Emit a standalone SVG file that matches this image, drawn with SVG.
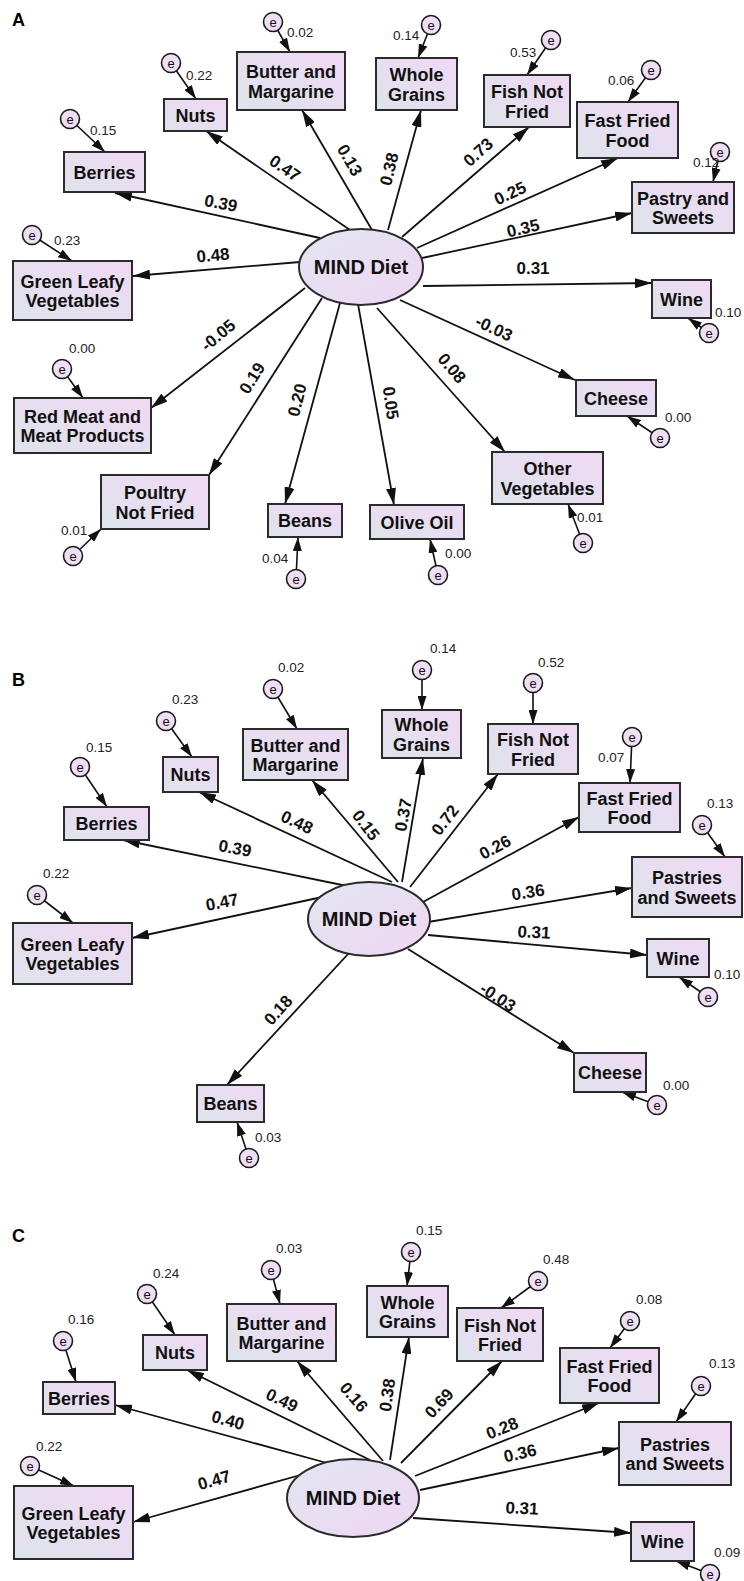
<svg xmlns="http://www.w3.org/2000/svg" width="744" height="1581" viewBox="0 0 744 1581">
<style>
.box{fill:url(#gb);stroke:#2b2b2b;stroke-width:2}
.lat{fill:url(#gl);stroke:#2b2b2b;stroke-width:2}
.err{fill:#f0def5;stroke:#1a1a1a;stroke-width:1.6}
.bt{font-family:"Liberation Sans",Arial,sans-serif;font-weight:bold;font-size:18px;fill:#111;text-anchor:middle}
.mt{font-family:"Liberation Sans",Arial,sans-serif;font-weight:bold;font-size:20px;fill:#111;text-anchor:middle}
.et{font-family:"Liberation Sans",Arial,sans-serif;font-size:13px;fill:#111;text-anchor:middle}
.vt{font-family:"Liberation Sans",Arial,sans-serif;font-size:13.5px;fill:#222}
.lb{font-family:"Liberation Sans",Arial,sans-serif;font-weight:bold;font-size:17px;fill:#111;text-anchor:middle}
.pl{font-family:"Liberation Sans",Arial,sans-serif;font-weight:bold;font-size:18px;fill:#000}
.ed{stroke:#111;stroke-width:1.8;fill:none;marker-end:url(#ah)}
.ee{stroke:#111;stroke-width:1.6;fill:none;marker-end:url(#ah2)}
</style>
<defs>
<linearGradient id="gb" x1="0" y1="1" x2="1" y2="0"><stop offset="0" stop-color="#dde4ec"/><stop offset="1" stop-color="#f1d8f4"/></linearGradient>
<linearGradient id="gl" x1="0" y1="0" x2="1" y2="1"><stop offset="0" stop-color="#e2e6f0"/><stop offset="1" stop-color="#efd6f3"/></linearGradient>
<marker id="ah" markerUnits="userSpaceOnUse" markerWidth="18" markerHeight="10" refX="17" refY="5" orient="auto"><path d="M0,0 L17,5 L0,10 z" fill="#111"/></marker>
<marker id="ah2" markerUnits="userSpaceOnUse" markerWidth="15" markerHeight="9" refX="14" refY="4.5" orient="auto"><path d="M0,0 L14,4.5 L0,9 z" fill="#111"/></marker>
</defs>
<rect width="744" height="1581" fill="#fff"/>
<text class="pl" x="12" y="26">A</text>
<text class="pl" x="12" y="686">B</text>
<text class="pl" x="12" y="1242">C</text>

<g id="connectors">
<!-- Panel A -->
<line class="ed" x1="320" y1="238" x2="115" y2="193"/>
<line class="ed" x1="350" y1="230" x2="206" y2="131"/>
<line class="ed" x1="372" y1="230" x2="302" y2="110"/>
<line class="ed" x1="300" y1="262" x2="133" y2="276"/>
<line class="ed" x1="388" y1="230" x2="421" y2="110"/>
<line class="ed" x1="402" y1="237" x2="529" y2="127"/>
<line class="ed" x1="417" y1="248" x2="618" y2="158"/>
<line class="ed" x1="422" y1="258" x2="632" y2="213"/>
<line class="ed" x1="423" y1="286" x2="652" y2="283"/>
<line class="ed" x1="400" y1="300" x2="575" y2="380"/>
<line class="ed" x1="377" y1="308" x2="505" y2="452"/>
<line class="ed" x1="358" y1="304" x2="394" y2="505"/>
<line class="ed" x1="340" y1="303" x2="285" y2="504"/>
<line class="ed" x1="322" y1="298" x2="209" y2="475"/>
<line class="ed" x1="305" y1="288" x2="151" y2="408"/>
<line class="ee" x1="273" y1="22" x2="290" y2="52"/>
<line class="ee" x1="171" y1="63" x2="196" y2="99"/>
<line class="ee" x1="70" y1="119" x2="105" y2="152"/>
<line class="ee" x1="32" y1="235" x2="72" y2="261"/>
<line class="ee" x1="431" y1="25" x2="418" y2="58"/>
<line class="ee" x1="551" y1="40" x2="527" y2="75"/>
<line class="ee" x1="651" y1="70" x2="628" y2="102"/>
<line class="ee" x1="720" y1="152" x2="713" y2="182"/>
<line class="ee" x1="709" y1="333" x2="688" y2="318"/>
<line class="ee" x1="660" y1="438" x2="627" y2="416"/>
<line class="ee" x1="583" y1="543" x2="568" y2="504"/>
<line class="ee" x1="438" y1="575" x2="430" y2="539"/>
<line class="ee" x1="296" y1="579" x2="298" y2="537"/>
<line class="ee" x1="73" y1="556" x2="101" y2="529"/>
<line class="ee" x1="62" y1="369" x2="83" y2="398"/>
<g class="lb">
<text transform="translate(221,203) rotate(11)" y="6">0.39</text>
<text transform="translate(285,168) rotate(34)" y="6">0.47</text>
<text transform="translate(350,160) rotate(60)" y="6">0.13</text>
<text transform="translate(213,255) rotate(-5)" y="6">0.48</text>
<text transform="translate(389,169) rotate(-77)" y="6">0.38</text>
<text transform="translate(478,152) rotate(-42)" y="6">0.73</text>
<text transform="translate(510,193) rotate(-25)" y="6">0.25</text>
<text transform="translate(523,228) rotate(-13)" y="6">0.35</text>
<text transform="translate(533,268)" y="6">0.31</text>
<text transform="translate(494,328) rotate(25)" y="6">-0.03</text>
<text transform="translate(452,368) rotate(50)" y="6">0.08</text>
<text transform="translate(391,403) rotate(82)" y="6">0.05</text>
<text transform="translate(297,400) rotate(-76)" y="6">0.20</text>
<text transform="translate(252,378) rotate(-58)" y="6">0.19</text>
<text transform="translate(218,335) rotate(-40)" y="6">-0.05</text>
</g>
<!-- Panel B -->
<line class="ed" x1="347" y1="886" x2="123" y2="840"/>
<line class="ed" x1="392" y1="882" x2="199" y2="792"/>
<line class="ed" x1="398" y1="882" x2="312" y2="780"/>
<line class="ed" x1="327" y1="896" x2="132" y2="938"/>
<line class="ed" x1="402" y1="882" x2="423" y2="758"/>
<line class="ed" x1="410" y1="887" x2="498" y2="774"/>
<line class="ed" x1="423" y1="902" x2="579" y2="817"/>
<line class="ed" x1="428" y1="922" x2="632" y2="888"/>
<line class="ed" x1="428" y1="935" x2="647" y2="955"/>
<line class="ed" x1="408" y1="949" x2="574" y2="1053"/>
<line class="ed" x1="349" y1="953" x2="227" y2="1085"/>
<line class="ee" x1="273" y1="689" x2="297" y2="729"/>
<line class="ee" x1="166" y1="721" x2="192" y2="757"/>
<line class="ee" x1="80" y1="767" x2="107" y2="807"/>
<line class="ee" x1="37" y1="895" x2="73" y2="923"/>
<line class="ee" x1="422" y1="670" x2="422" y2="710"/>
<line class="ee" x1="533" y1="683" x2="533" y2="724"/>
<line class="ee" x1="632" y1="737" x2="630" y2="783"/>
<line class="ee" x1="702" y1="825" x2="725" y2="857"/>
<line class="ee" x1="708" y1="997" x2="679" y2="977"/>
<line class="ee" x1="657" y1="1105" x2="622" y2="1092"/>
<line class="ee" x1="249" y1="1158" x2="237" y2="1122"/>
<g class="lb">
<text transform="translate(235,848) rotate(10)" y="6">0.39</text>
<text transform="translate(297,822) rotate(25)" y="6">0.48</text>
<text transform="translate(366,825) rotate(53)" y="6">0.15</text>
<text transform="translate(222,902) rotate(-11)" y="6">0.47</text>
<text transform="translate(403,815) rotate(-80)" y="6">0.37</text>
<text transform="translate(445,820) rotate(-52)" y="6">0.72</text>
<text transform="translate(495,847) rotate(-28)" y="6">0.26</text>
<text transform="translate(528,892) rotate(-9)" y="6">0.36</text>
<text transform="translate(534,932) rotate(3)" y="6">0.31</text>
<text transform="translate(498,997) rotate(33)" y="6">-0.03</text>
<text transform="translate(278,1010) rotate(-48)" y="6">0.18</text>
</g>
<!-- Panel C -->
<line class="ed" x1="327" y1="1463" x2="115" y2="1405"/>
<line class="ed" x1="370" y1="1460" x2="187" y2="1370"/>
<line class="ed" x1="383" y1="1461" x2="297" y2="1361"/>
<line class="ed" x1="390" y1="1460" x2="409" y2="1337"/>
<line class="ed" x1="401" y1="1463" x2="502" y2="1361"/>
<line class="ed" x1="415" y1="1476" x2="599" y2="1403"/>
<line class="ed" x1="420" y1="1490" x2="619" y2="1448"/>
<line class="ed" x1="413" y1="1518" x2="631" y2="1533"/>
<line class="ed" x1="304" y1="1474" x2="133" y2="1522"/>
<line class="ee" x1="63" y1="1341" x2="76" y2="1382"/>
<line class="ee" x1="147" y1="1294" x2="175" y2="1335"/>
<line class="ee" x1="271" y1="1270" x2="280" y2="1304"/>
<line class="ee" x1="411" y1="1252" x2="407" y2="1286"/>
<line class="ee" x1="538" y1="1281" x2="501" y2="1308"/>
<line class="ee" x1="630" y1="1321" x2="610" y2="1348"/>
<line class="ee" x1="701" y1="1386" x2="676" y2="1422"/>
<line class="ee" x1="30" y1="1466" x2="74" y2="1486"/>
<line class="ee" x1="710" y1="1574" x2="676" y2="1561"/>
<g class="lb">
<text transform="translate(228,1420) rotate(15)" y="6">0.40</text>
<text transform="translate(282,1400) rotate(26)" y="6">0.49</text>
<text transform="translate(354,1397) rotate(50)" y="6">0.16</text>
<text transform="translate(387,1395) rotate(-82)" y="6">0.38</text>
<text transform="translate(439,1403) rotate(-47)" y="6">0.69</text>
<text transform="translate(502,1428) rotate(-22)" y="6">0.28</text>
<text transform="translate(520,1453) rotate(-13)" y="6">0.36</text>
<text transform="translate(522,1508) rotate(3)" y="6">0.31</text>
<text transform="translate(214,1480) rotate(-16)" y="6">0.47</text>
</g>
</g>

<!-- Panel A nodes -->
<g id="a-mind"><ellipse class="lat" cx="361" cy="267" rx="62" ry="38"/><text class="mt" x="361" y="274">MIND Diet</text></g>
<g id="a-butter"><rect class="box" x="237" y="52" width="108" height="58"/><text class="bt" x="291" y="78">Butter and</text><text class="bt" x="291" y="97.5">Margarine</text><circle class="err" cx="273" cy="22" r="9.5"/><text class="et" x="273" y="26.5">e</text><text class="vt" x="287" y="37">0.02</text></g>
<g id="a-nuts"><rect class="box" x="164" y="99" width="63" height="32"/><text class="bt" x="195.5" y="121.5">Nuts</text><circle class="err" cx="171" cy="63" r="9.5"/><text class="et" x="171" y="67.5">e</text><text class="vt" x="186" y="80">0.22</text></g>
<g id="a-berries"><rect class="box" x="64" y="152" width="81" height="40"/><text class="bt" x="104.5" y="178.5">Berries</text><circle class="err" cx="70" cy="119" r="9.5"/><text class="et" x="70" y="123.5">e</text><text class="vt" x="90" y="135">0.15</text></g>
<g id="a-green"><rect class="box" x="13" y="261" width="119" height="59"/><text class="bt" x="72.5" y="287.5">Green Leafy</text><text class="bt" x="72.5" y="307">Vegetables</text><circle class="err" cx="32" cy="235" r="9.5"/><text class="et" x="32" y="239.5">e</text><text class="vt" x="54" y="245">0.23</text></g>
<g id="a-whole"><rect class="box" x="376" y="58" width="81" height="52"/><text class="bt" x="416.5" y="81">Whole</text><text class="bt" x="416.5" y="100.5">Grains</text><circle class="err" cx="431" cy="25" r="9.5"/><text class="et" x="431" y="29.5">e</text><text class="vt" x="393" y="40">0.14</text></g>
<g id="a-fish"><rect class="box" x="484" y="75" width="86" height="52"/><text class="bt" x="527" y="98">Fish Not</text><text class="bt" x="527" y="117.5">Fried</text><circle class="err" cx="551" cy="40" r="9.5"/><text class="et" x="551" y="44.5">e</text><text class="vt" x="510" y="57">0.53</text></g>
<g id="a-fast"><rect class="box" x="577" y="102" width="101" height="56"/><text class="bt" x="627.5" y="127">Fast Fried</text><text class="bt" x="627.5" y="146.5">Food</text><circle class="err" cx="651" cy="70" r="9.5"/><text class="et" x="651" y="74.5">e</text><text class="vt" x="608" y="85">0.06</text></g>
<g id="a-pastry"><rect class="box" x="632" y="182" width="102" height="51"/><text class="bt" x="683" y="204.5">Pastry and</text><text class="bt" x="683" y="224">Sweets</text><circle class="err" cx="720" cy="152" r="9.5"/><text class="et" x="720" y="156.5">e</text><text class="vt" x="693" y="167">0.12</text></g>
<g id="a-wine"><rect class="box" x="652" y="280" width="59" height="38"/><text class="bt" x="681.5" y="305.5">Wine</text><circle class="err" cx="709" cy="333" r="9.5"/><text class="et" x="709" y="337.5">e</text><text class="vt" x="715" y="317">0.10</text></g>
<g id="a-cheese"><rect class="box" x="576" y="380" width="80" height="36"/><text class="bt" x="616" y="404.5">Cheese</text><circle class="err" cx="660" cy="438" r="9.5"/><text class="et" x="660" y="442.5">e</text><text class="vt" x="665" y="422">0.00</text></g>
<g id="a-other"><rect class="box" x="492" y="452" width="111" height="52"/><text class="bt" x="547.5" y="475">Other</text><text class="bt" x="547.5" y="494.5">Vegetables</text><circle class="err" cx="583" cy="543" r="9.5"/><text class="et" x="583" y="547.5">e</text><text class="vt" x="577" y="522">0.01</text></g>
<g id="a-olive"><rect class="box" x="370" y="505" width="94" height="34"/><text class="bt" x="417" y="528.5">Olive Oil</text><circle class="err" cx="438" cy="575" r="9.5"/><text class="et" x="438" y="579.5">e</text><text class="vt" x="445" y="558">0.00</text></g>
<g id="a-beans"><rect class="box" x="268" y="504" width="74" height="33"/><text class="bt" x="305" y="527">Beans</text><circle class="err" cx="296" cy="579" r="9.5"/><text class="et" x="296" y="583.5">e</text><text class="vt" x="262" y="563">0.04</text></g>
<g id="a-poultry"><rect class="box" x="101" y="475" width="108" height="54"/><text class="bt" x="155" y="499">Poultry</text><text class="bt" x="155" y="518.5">Not Fried</text><circle class="err" cx="73" cy="556" r="9.5"/><text class="et" x="73" y="560.5">e</text><text class="vt" x="61" y="535">0.01</text></g>
<g id="a-redmeat"><rect class="box" x="14" y="398" width="137" height="55"/><text class="bt" x="82.5" y="422.5">Red Meat and</text><text class="bt" x="82.5" y="442">Meat Products</text><circle class="err" cx="62" cy="369" r="9.5"/><text class="et" x="62" y="373.5">e</text><text class="vt" x="69" y="353">0.00</text></g>

<!-- Panel B nodes -->
<g id="b-mind"><ellipse class="lat" cx="369" cy="919" rx="61" ry="37"/><text class="mt" x="369" y="926">MIND Diet</text></g>
<g id="b-butter"><rect class="box" x="243" y="729" width="105" height="51"/><text class="bt" x="295.5" y="751.5">Butter and</text><text class="bt" x="295.5" y="771">Margarine</text><circle class="err" cx="273" cy="689" r="9.5"/><text class="et" x="273" y="693.5">e</text><text class="vt" x="278" y="672">0.02</text></g>
<g id="b-nuts"><rect class="box" x="163" y="757" width="55" height="35"/><text class="bt" x="190.5" y="781">Nuts</text><circle class="err" cx="166" cy="721" r="9.5"/><text class="et" x="166" y="725.5">e</text><text class="vt" x="172" y="704">0.23</text></g>
<g id="b-berries"><rect class="box" x="64" y="807" width="85" height="33"/><text class="bt" x="106.5" y="830">Berries</text><circle class="err" cx="80" cy="767" r="9.5"/><text class="et" x="80" y="771.5">e</text><text class="vt" x="86" y="752">0.15</text></g>
<g id="b-green"><rect class="box" x="13" y="923" width="119" height="61"/><text class="bt" x="72.5" y="950.5">Green Leafy</text><text class="bt" x="72.5" y="970">Vegetables</text><circle class="err" cx="37" cy="895" r="9.5"/><text class="et" x="37" y="899.5">e</text><text class="vt" x="43" y="878">0.22</text></g>
<g id="b-whole"><rect class="box" x="382" y="710" width="79" height="48"/><text class="bt" x="421.5" y="731">Whole</text><text class="bt" x="421.5" y="750.5">Grains</text><circle class="err" cx="422" cy="670" r="9.5"/><text class="et" x="422" y="674.5">e</text><text class="vt" x="430" y="653">0.14</text></g>
<g id="b-fish"><rect class="box" x="488" y="724" width="90" height="50"/><text class="bt" x="533" y="746">Fish Not</text><text class="bt" x="533" y="765.5">Fried</text><circle class="err" cx="533" cy="683" r="9.5"/><text class="et" x="533" y="687.5">e</text><text class="vt" x="538" y="667">0.52</text></g>
<g id="b-fast"><rect class="box" x="579" y="783" width="101" height="49"/><text class="bt" x="629.5" y="804.5">Fast Fried</text><text class="bt" x="629.5" y="824">Food</text><circle class="err" cx="632" cy="737" r="9.5"/><text class="et" x="632" y="741.5">e</text><text class="vt" x="598" y="762">0.07</text></g>
<g id="b-pastries"><rect class="box" x="632" y="857" width="110" height="60"/><text class="bt" x="687" y="884">Pastries</text><text class="bt" x="687" y="903.5">and Sweets</text><circle class="err" cx="702" cy="825" r="9.5"/><text class="et" x="702" y="829.5">e</text><text class="vt" x="707" y="808">0.13</text></g>
<g id="b-wine"><rect class="box" x="647" y="939" width="62" height="38"/><text class="bt" x="678" y="964.5">Wine</text><circle class="err" cx="708" cy="997" r="9.5"/><text class="et" x="708" y="1001.5">e</text><text class="vt" x="714" y="979">0.10</text></g>
<g id="b-cheese"><rect class="box" x="574" y="1053" width="72" height="39"/><text class="bt" x="610" y="1079">Cheese</text><circle class="err" cx="657" cy="1105" r="9.5"/><text class="et" x="657" y="1109.5">e</text><text class="vt" x="663" y="1090">0.00</text></g>
<g id="b-beans"><rect class="box" x="197" y="1085" width="67" height="37"/><text class="bt" x="230.5" y="1110">Beans</text><circle class="err" cx="249" cy="1158" r="9.5"/><text class="et" x="249" y="1162.5">e</text><text class="vt" x="255" y="1142">0.03</text></g>

<!-- Panel C nodes -->
<g id="c-mind"><ellipse class="lat" cx="353" cy="1498" rx="66" ry="39"/><text class="mt" x="353" y="1505">MIND Diet</text></g>
<g id="c-butter"><rect class="box" x="227" y="1304" width="109" height="57"/><text class="bt" x="281.5" y="1329.5">Butter and</text><text class="bt" x="281.5" y="1349">Margarine</text><circle class="err" cx="271" cy="1270" r="9.5"/><text class="et" x="271" y="1274.5">e</text><text class="vt" x="276" y="1253">0.03</text></g>
<g id="c-nuts"><rect class="box" x="143" y="1335" width="64" height="35"/><text class="bt" x="175" y="1359">Nuts</text><circle class="err" cx="147" cy="1294" r="9.5"/><text class="et" x="147" y="1298.5">e</text><text class="vt" x="153" y="1278">0.24</text></g>
<g id="c-berries"><rect class="box" x="43" y="1382" width="72" height="32"/><text class="bt" x="79" y="1404.5">Berries</text><circle class="err" cx="63" cy="1341" r="9.5"/><text class="et" x="63" y="1345.5">e</text><text class="vt" x="68" y="1324">0.16</text></g>
<g id="c-green"><rect class="box" x="14" y="1486" width="119" height="73"/><text class="bt" x="73.5" y="1519.5">Green Leafy</text><text class="bt" x="73.5" y="1539">Vegetables</text><circle class="err" cx="30" cy="1466" r="9.5"/><text class="et" x="30" y="1470.5">e</text><text class="vt" x="36" y="1451">0.22</text></g>
<g id="c-whole"><rect class="box" x="367" y="1286" width="81" height="51"/><text class="bt" x="407.5" y="1308.5">Whole</text><text class="bt" x="407.5" y="1328">Grains</text><circle class="err" cx="411" cy="1252" r="9.5"/><text class="et" x="411" y="1256.5">e</text><text class="vt" x="416" y="1235">0.15</text></g>
<g id="c-fish"><rect class="box" x="457" y="1308" width="86" height="53"/><text class="bt" x="500" y="1331.5">Fish Not</text><text class="bt" x="500" y="1351">Fried</text><circle class="err" cx="538" cy="1281" r="9.5"/><text class="et" x="538" y="1285.5">e</text><text class="vt" x="543" y="1264">0.48</text></g>
<g id="c-fast"><rect class="box" x="560" y="1348" width="99" height="55"/><text class="bt" x="609.5" y="1372.5">Fast Fried</text><text class="bt" x="609.5" y="1392">Food</text><circle class="err" cx="630" cy="1321" r="9.5"/><text class="et" x="630" y="1325.5">e</text><text class="vt" x="636" y="1304">0.08</text></g>
<g id="c-pastries"><rect class="box" x="619" y="1422" width="112" height="63"/><text class="bt" x="675" y="1450.5">Pastries</text><text class="bt" x="675" y="1470">and Sweets</text><circle class="err" cx="701" cy="1386" r="9.5"/><text class="et" x="701" y="1390.5">e</text><text class="vt" x="709" y="1368">0.13</text></g>
<g id="c-wine"><rect class="box" x="631" y="1522" width="63" height="39"/><text class="bt" x="662.5" y="1548">Wine</text><circle class="err" cx="710" cy="1574" r="9.5"/><text class="et" x="710" y="1578.5">e</text><text class="vt" x="714" y="1557">0.09</text></g>
</svg>
